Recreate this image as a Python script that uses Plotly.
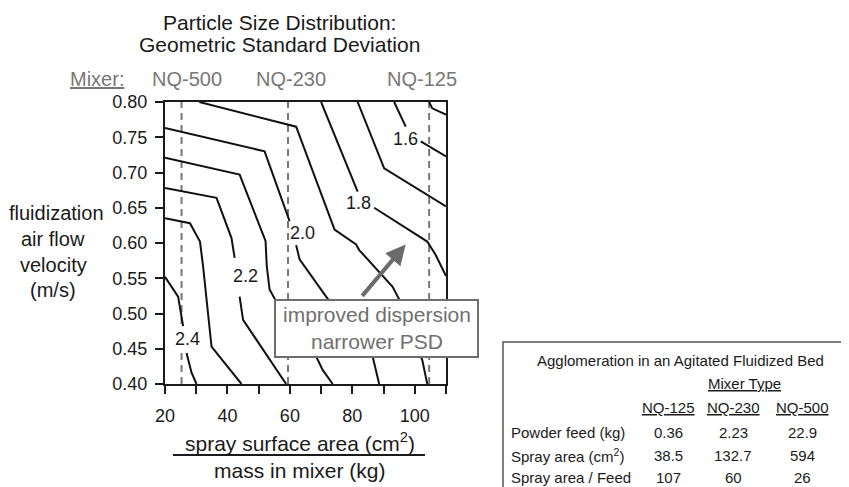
import plotly.graph_objects as go

# reference pixel frame; the page body adds an 8px offset, so the figure is 8px smaller
W, H = 849, 487
OFF = 8
L, R, T, B = 165, 403, 102, 103
FIG_W, FIG_H = W - OFF, H - OFF


def px(xp):
    return (xp - L) / (W - L - R)


def py(yp):
    return (H - B - yp) / (H - T - B)


FONT = "Liberation Sans, Arial, Helvetica, sans-serif"
INK = "#1a1a1a"
GRAY = "#777777"

# ---------------- data ----------------
x_range = [20, 110]
y_range = [0.40, 0.80]
x_ticks = [20, 40, 60, 80, 100]
x_tick_labels = ["20", "40", "60", "80", "100"]
x_minor_step = 10
y_ticks = [0.40, 0.45, 0.50, 0.55, 0.60, 0.65, 0.70, 0.75, 0.80]
y_tick_labels = ["0.40", "0.45", "0.50", "0.55", "0.60", "0.65", "0.70", "0.75", "0.80"]

# mixer positions (spray area / feed) as drawn
mixer_names = ["NQ-500", "NQ-230", "NQ-125"]
mixer_x = [25.3, 59.4, 104.6]

# contour polylines (None = gap for label)
c24_x = [20, 24.2, 25.8, None, 26.9, 28.5, 30.1]
c24_y = [0.552, 0.524, 0.482, None, 0.444, 0.416, 0.40]
c23_x = [20, 28.0, 31.2, 32.2, 34.9, 44.5]
c23_y = [0.635, 0.628, 0.602, 0.567, 0.453, 0.40]
c22_x = [20, 36.5, 41.3, 42.3, None, 43.9, 45.0, 58.8]
c22_y = [0.678, 0.664, 0.607, 0.579, None, 0.524, 0.491, 0.40]
c21_x = [20, 43.9, 52.2, 52.6, 53.5, 56.5, 68.0, 68.4, 70.5, 73.7]
c21_y = [0.721, 0.697, 0.603, 0.567, 0.534, 0.510, 0.445, 0.439, 0.420, 0.40]
c20_x = [20, 51.9, 59.9, None, 62.0, 63.1, 71.6, 86.5, 88.6]
c20_y = [0.763, 0.730, 0.631, None, 0.597, 0.577, 0.524, 0.439, 0.40]
c19_x = [31.0, 62.0, 74.3, 81.2, 82.2, 92.9, 95.0, 102.4, 104.0]
c19_y = [0.80, 0.765, 0.619, 0.598, 0.590, 0.538, 0.520, 0.434, 0.40]
c18_x = [70.0, 81.7, None, 87.0, 104.0, 106.7, 110]
c18_y = [0.80, 0.673, None, 0.650, 0.602, 0.583, 0.553]
c17_x = [81.7, 90.2, 110]
c17_y = [0.80, 0.706, 0.652]
c16_x = [93.4, 97.1, None, 101.9, 110]
c16_y = [0.80, 0.765, None, 0.744, 0.723]
c15_x = [104.6, 105.6, 110]
c15_y = [0.80, 0.791, 0.782]

contours = [
    (c24_x, c24_y), (c23_x, c23_y), (c22_x, c22_y), (c21_x, c21_y),
    (c20_x, c20_y), (c19_x, c19_y), (c18_x, c18_y), (c17_x, c17_y),
    (c16_x, c16_y), (c15_x, c15_y),
]

label_text = ["2.4", "2.2", "2.0", "1.8", "1.6"]
label_x = [27.2, 45.9, 64.1, 81.9, 96.9]
label_y = [0.464, 0.553, 0.614, 0.657, 0.747]

# arrow (improved dispersion direction)
arrow_tail = (82.2, 0.520)
arrow_head = (97.1, 0.598)

# table
table_title = "Agglomeration in an Agitated Fluidized Bed"
table_cols = ["NQ-125", "NQ-230", "NQ-500"]
table_rows = ["Powder feed (kg)", "Spray area (cm<sup>2</sup>)", "Spray area / Feed"]
powder_feed = ["0.36", "2.23", "22.9"]
spray_area = ["38.5", "132.7", "594"]
spray_per_feed = ["107", "60", "26"]
table_values = [powder_feed, spray_area, spray_per_feed]

# ---------------- figure ----------------
fig = go.Figure()
for cx, cy in contours:
    fig.add_trace(go.Scatter(
        x=cx, y=cy, mode="lines", connectgaps=False,
        line=dict(color="#111111", width=2),
        hoverinfo="skip", showlegend=False,
    ))

shapes = []
# dashed mixer lines
for mx in mixer_x:
    shapes.append(dict(
        type="line", xref="x", yref="paper", x0=mx, x1=mx, y0=0, y1=py(96),
        line=dict(color=GRAY, width=2, dash="7px,5px"), layer="below",
    ))
# annotation box
shapes.append(dict(
    type="rect", xref="paper", yref="paper",
    x0=px(275), x1=px(478), y0=py(357), y1=py(300),
    line=dict(color="#6e6e6e", width=2), fillcolor="white", layer="above",
))
# x title fraction bar
shapes.append(dict(
    type="line", xref="paper", yref="paper",
    x0=px(173), x1=px(425), y0=py(455), y1=py(455),
    line=dict(color=INK, width=2),
))
# table border
shapes.append(dict(
    type="rect", xref="paper", yref="paper",
    x0=px(503), x1=px(845), y0=py(500), y1=py(342),
    line=dict(color="#555555", width=1.5), fillcolor="rgba(0,0,0,0)",
))

ann = []


def txt(text, xp, yp, size, color=INK, xanchor="center"):
    ann.append(dict(
        text=text, x=px(xp), y=py(yp), xref="paper", yref="paper",
        showarrow=False, xanchor=xanchor, yanchor="middle",
        font=dict(family=FONT, size=size, color=color),
    ))


# title
txt("Particle Size Distribution:", 279, 22, 21)
txt("Geometric Standard Deviation", 279, 44, 21)
# mixer labels
txt("<u>Mixer:</u>", 97, 79, 20, GRAY)
for name, xp in zip(mixer_names, [187, 291, 422]):
    txt(name, xp, 79, 20, GRAY)
# y title
for line, xp, yp in zip(["fluidization", "air flow", "velocity", "(m/s)"],
                        [56, 53, 53, 53], [213, 239, 265, 290]):
    txt(line, xp, yp, 20)
# x title
txt("spray surface area (cm<sup>2</sup>)", 300, 442, 21)
txt("mass in mixer (kg)", 300, 470, 21)
# box text
txt("improved dispersion<br>narrower PSD", 377, 328, 21, "#707070")

# contour labels
for t, lx, ly in zip(label_text, label_x, label_y):
    ann.append(dict(
        text=t, x=lx, y=ly, xref="x", yref="y", showarrow=False,
        font=dict(family=FONT, size=18, color=INK), bgcolor="white", borderpad=0,
    ))

# arrow
ann.append(dict(
    text=" ", x=arrow_head[0], y=arrow_head[1], ax=arrow_tail[0], ay=arrow_tail[1],
    xref="x", yref="y", axref="x", ayref="y", showarrow=True,
    arrowhead=2, arrowsize=1, arrowwidth=4, arrowcolor="#6b6b6b", standoff=0,
))

# table
txt(table_title, 680, 360, 15)
txt("<u>Mixer Type</u>", 744, 383, 15)
col_x = [668, 733, 802]
for name, cxp in zip(table_cols, col_x):
    txt("<u>" + name + "</u>", cxp, 407, 15)
for rname, vals, ryp in zip(table_rows, table_values, [432, 455, 477]):
    txt(rname, 509, ryp, 15, xanchor="left")
    for v, cxp in zip(vals, col_x):
        txt(v, cxp, ryp, 15)

fig.update_layout(
    width=FIG_W, height=FIG_H,
    margin=dict(l=L - OFF, r=R, t=T - OFF, b=B),
    paper_bgcolor="white", plot_bgcolor="white",
    font=dict(family=FONT, color=INK),
    shapes=shapes, annotations=ann, showlegend=False,
    xaxis=dict(
        range=x_range, tickmode="array", tickvals=x_ticks, ticktext=x_tick_labels,
        ticks="outside", ticklen=8, tickwidth=2, tickcolor=INK,
        minor=dict(ticks="outside", ticklen=8, tickwidth=2, tickcolor=INK,
                   tick0=x_range[0], dtick=x_minor_step),
        showline=True, linewidth=2, linecolor=INK, mirror=True,
        showgrid=False, zeroline=False, tickfont=dict(size=18, family=FONT, color=INK),
        ticklabelstandoff=6,
    ),
    yaxis=dict(
        range=y_range, tickmode="array", tickvals=y_ticks, ticktext=y_tick_labels,
        ticks="outside", ticklen=8, tickwidth=2, tickcolor=INK,
        showline=True, linewidth=2, linecolor=INK, mirror=True,
        showgrid=False, zeroline=False, tickfont=dict(size=18, family=FONT, color=INK),
        ticklabelstandoff=4,
    ),
)

fig.write_html("out.html")
